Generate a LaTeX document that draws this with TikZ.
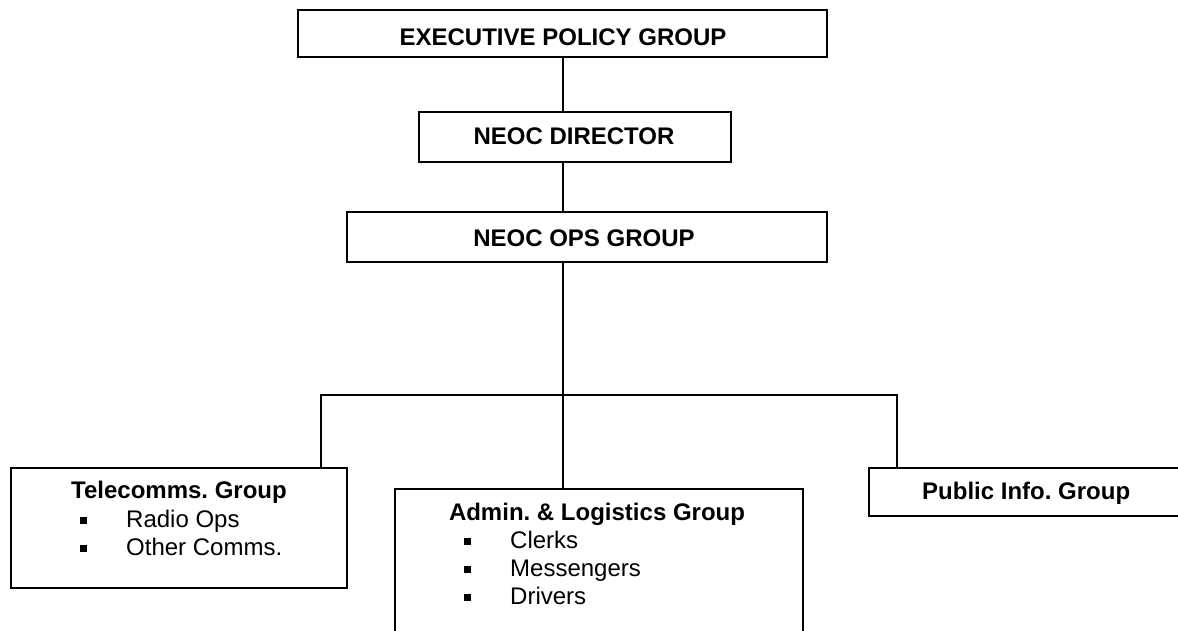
\documentclass[tikz,border=0pt]{standalone}
\usepackage{fontspec}
\setmainfont{Liberation Sans}
\frenchspacing
\begin{document}
\begin{tikzpicture}[x=1pt,y=-1pt,
  box/.style={draw, line width=1.8pt, inner sep=0pt, anchor=north west, rectangle},
  conn/.style={line width=1.8pt},
  title/.style={font=\fontsize{24}{28}\selectfont\bfseries, anchor=base, inner sep=0pt},
  item/.style={font=\fontsize{24}{28}\selectfont, anchor=base west, inner sep=0pt},
  bullet/.style={fill=black, draw=none, minimum size=7pt, inner sep=0pt, rectangle}]
\useasboundingbox (0,0) rectangle (1178,631);
\clip (0,0) rectangle (1178,631);

% boxes
\node[box, minimum width=529pt, minimum height=47pt] (exec) at (297,9) {};
\node[box, minimum width=312pt, minimum height=50pt] (dir) at (418,111) {};
\node[box, minimum width=480pt, minimum height=50pt] (ops) at (346,211) {};
\node[box, minimum width=336pt, minimum height=120pt] (tel) at (10,467) {};
\node[box, minimum width=408pt, minimum height=170pt] (adm) at (394,488) {};
\node[box, minimum width=360pt, minimum height=48pt] (pub) at (868,467) {};

% connectors
\coordinate (spine) at (563,0);
\coordinate (bus) at (563,395);
\coordinate (tdrop) at (321,395);
\coordinate (pdrop) at (897,395);
\draw[conn] (exec.south -| spine) -- (dir.north -| spine);
\draw[conn] (dir.south -| spine) -- (ops.north -| spine);
\draw[conn] (ops.south -| spine) -- (bus) -- (adm.north -| bus);
\draw[conn] (tel.north -| tdrop) -- (tdrop) -- (pdrop) -- (pub.north -| pdrop);

% texts
\node[title] (t-exec) at (563,46) {EXECUTIVE POLICY GROUP};
\node[title] (t-dir) at (574,145) {NEOC DIRECTOR};
\node[title] (t-ops) at (584,247) {NEOC OPS GROUP};

\node[title] (t-tel) at (179,498) {Telecomms. Group};
\node[bullet] (b-radio) at (83,520) {};
\node[item] (i-radio) at (126,527) {Radio Ops};
\node[bullet] (b-other) at (83,548) {};
\node[item] (i-other) at (126,555) {Other Comms.};

\node[title] (t-adm) at (597,520) {Admin. \& Logistics Group};
\node[bullet] (b-clerks) at (467,541) {};
\node[item] (i-clerks) at (510,548) {Clerks};
\node[bullet] (b-mess) at (467,569) {};
\node[item] (i-mess) at (510,576) {Messengers};
\node[bullet] (b-drv) at (467,597) {};
\node[item] (i-drv) at (510,604) {Drivers};

\node[title, anchor=base west] (t-pub) at (922,499) {Public Info. Group};
\end{tikzpicture}
\end{document}
